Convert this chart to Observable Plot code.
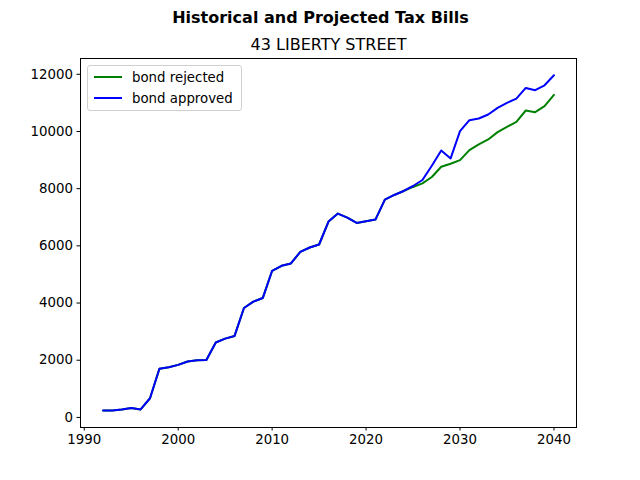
<!DOCTYPE html>
<html>
<head>
<meta charset="utf-8">
<script src="https://cdn.jsdelivr.net/npm/d3@7"></script>
<script src="https://cdn.jsdelivr.net/npm/@observablehq/plot@0.6"></script>
<style>
  html, body { margin: 0; padding: 0; background: white; }
  #wrap { position: relative; width: 640px; height: 480px; font-family: "DejaVu Sans", sans-serif; }
  #legend { position: absolute; left: 87px; top: 65px; width: 153px; height: 44px; border: 1px solid #d0d0d0; border-radius: 3px; background: rgba(255,255,255,0.8); font-size: 13.33px; }
  .item { position: absolute; left: 6px; height: 16px; display: flex; align-items: center; }
  .swatch { width: 28px; height: 2px; margin-right: 10px; }
</style>
</head>
<body>
<div id="wrap"></div>
<script>
const years = [1992,1993,1994,1995,1996,1997,1998,1999,2000,2001,2002,2003,2004,2005,2006,2007,2008,2009,2010,2011,2012,2013,2014,2015,2016,2017,2018,2019,2020,2021,2022,2023,2024,2025,2026,2027,2028,2029,2030,2031,2032,2033,2034,2035,2036,2037,2038,2039,2040];
const rejected = [240,240,275,330,280,670,1700,1756,1837,1953,1995,2010,2620,2756,2850,3826,4047,4174,5128,5302,5384,5791,5942,6047,6849,7128,6988,6802,6860,6918,7616,7779,7919,8060,8186,8407,8767,8872,9000,9349,9547,9721,9977,10163,10337,10733,10674,10884,11279];
const approved = [240,240,275,330,280,670,1700,1756,1837,1953,1995,2010,2620,2756,2850,3826,4047,4174,5128,5302,5384,5791,5942,6047,6849,7128,6988,6802,6860,6918,7616,7779,7919,8093,8302,8800,9337,9058,10012,10395,10453,10593,10826,11000,11151,11523,11442,11616,11965];
const xTicks = [1990,2000,2010,2020,2030,2040];
const yTicks = [0,2000,4000,6000,8000,10000,12000];
const seriesNames = ["bond rejected", "bond approved"];
const seriesColors = ["green", "blue"];
const title = "Historical and Projected Tax Bills";
const subtitle = "43 LIBERTY STREET";

const rows = [];
years.forEach((y, i) => {
  rows.push({year: y, value: rejected[i], series: seriesNames[0]});
});
years.forEach((y, i) => {
  rows.push({year: y, value: approved[i], series: seriesNames[1]});
});

const chart = Plot.plot({
  width: 640,
  height: 480,
  marginLeft: 80,
  marginRight: 64,
  marginTop: 58,
  marginBottom: 53,
  style: {fontFamily: "DejaVu Sans, sans-serif", fontSize: "13.33px", background: "white", color: "black", overflow: "visible"},
  x: {domain: [1989.6, 2042.4]},
  y: {domain: [-353, 12552]},
  color: {domain: seriesNames, range: seriesColors},
  marks: [
    Plot.line(rows, {x: "year", y: "value", stroke: "series", z: "series", strokeWidth: 2}),
    Plot.frame({stroke: "black", strokeWidth: 1}),
    Plot.axisX({ticks: xTicks, tickFormat: d => String(d), tickSize: 3.5, tickPadding: 4, fontSize: 13.33, label: null}),
    Plot.axisY({ticks: yTicks, tickFormat: d => String(d), tickSize: 3.5, tickPadding: 4, fontSize: 13.33, label: null}),
    Plot.text([title], {text: d => d, frameAnchor: "top", lineAnchor: "middle", dx: -8, dy: -41, fontSize: 16, fontWeight: "bold"}),
    Plot.text([subtitle], {text: d => d, frameAnchor: "top", lineAnchor: "middle", dy: -14, fontSize: 16})
  ]
});

const wrap = document.getElementById("wrap");
wrap.appendChild(chart);
const legend = document.createElement("div");
legend.id = "legend";
seriesNames.forEach((name, i) => {
  const item = document.createElement("div");
  item.className = "item";
  item.style.top = (3 + i * 21) + "px";
  const sw = document.createElement("div");
  sw.className = "swatch";
  sw.style.background = seriesColors[i];
  const label = document.createElement("span");
  label.textContent = name;
  item.appendChild(sw);
  item.appendChild(label);
  legend.appendChild(item);
});
wrap.appendChild(legend);
</script>
</body>
</html>
